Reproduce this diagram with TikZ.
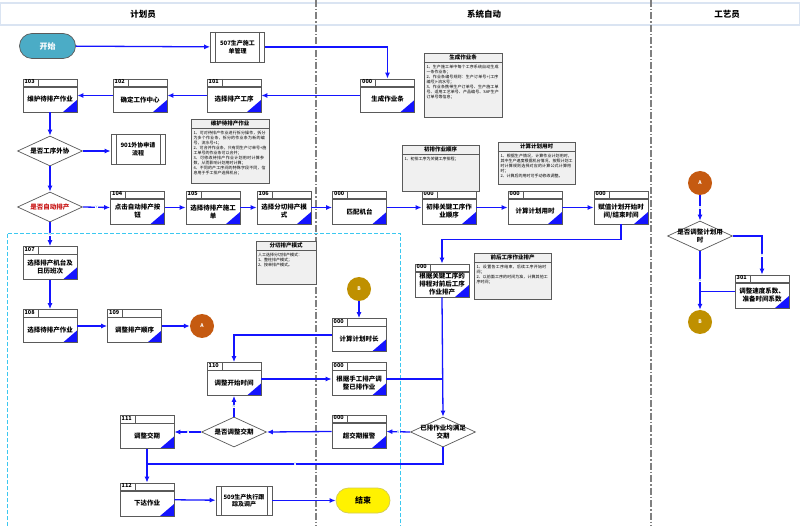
\documentclass[tikz,border=0pt]{standalone}
\usepackage{fontspec}
\setmainfont{Noto Sans CJK SC}
\XeTeXlinebreaklocale "zh"
\XeTeXlinebreakskip=0pt plus 1pt
\usetikzlibrary{
  shapes.geometric, shapes.misc,
  arrows.meta,
  positioning, calc
}
\definecolor{flowblue}{RGB}{20,20,255}
\definecolor{edgegray}{RGB}{90,90,90}
\definecolor{startteal}{RGB}{75,172,198}
\definecolor{circA}{RGB}{197,90,17}
\definecolor{circB}{RGB}{191,144,0}
\definecolor{notefill}{RGB}{240,240,240}
\definecolor{lanecyan}{RGB}{60,200,240}
\definecolor{hdrline}{RGB}{218,228,242}
\definecolor{condred}{RGB}{200,20,20}
\definecolor{ynblue}{RGB}{90,150,230}

% process box: name, position, number, text
\newcommand{\procbox}[4]{%
  \node[proc] (#1) at (#2) {};
  \node[procnum] (#1n) at (#1.north west) {#3};
  \node[proctxt] (#1t) at ([yshift=-4pt]#1.center) {#4};
}
% decision: name, position, text
\newcommand{\decbox}[3]{%
  \node[dec] (#1) at (#2) {};
  \node[dectxt] (#1t) at (#1.center) {#3};
}
% note: name, position, width, height, text width, title, body
\newcommand{\notebox}[7]{%
  \node[note, minimum width=#3, minimum height=#4] (#1) at (#2) {};
  \node[notehead] (#1h) at (#1.north) {#6};
  \draw[line width=1pt, edgegray] ([yshift=-10pt]#1.north west) -- ([yshift=-10pt]#1.north east);
  \node[notebody, text width=#5] (#1b) at ([yshift=-12pt]#1.north) {#7};
}

\begin{document}
\begin{tikzpicture}[
  x=1pt, y=-1pt,
  >={Latex[length=6pt,width=5pt]},
  flow/.style={flowblue, line width=1.3pt, ->},
  flowline/.style={flowblue, line width=1.3pt},
  lane/.style={gray, line width=1.2pt, dash pattern=on 7pt off 2pt on 1.5pt off 2pt},
  hdrtext/.style={font=\fontsize{8.5}{9}\selectfont\bfseries},
  proc/.style={draw=edgegray, fill=white, line width=0.7pt,
               minimum width=54pt, minimum height=33pt, inner sep=0pt,
               path picture={
                 \draw[line width=1.1pt, edgegray]
                   ([yshift=-8pt]path picture bounding box.north west) --
                   ([yshift=-8pt]path picture bounding box.north east);
                 \draw[line width=0.6pt, edgegray]
                   ([xshift=15pt]path picture bounding box.north west) -- ++(0pt,-8pt);
                 \fill[flowblue] (path picture bounding box.south east) --
                   ++(-14pt,0pt) -- ++(14pt,12pt) -- cycle;
               }},
  procnum/.style={anchor=north west, inner sep=0.8pt, xshift=1pt,
                  font=\fontsize{5.5}{6}\selectfont\bfseries},
  proctxt/.style={align=center, inner sep=0pt,
                  font=\fontsize{6.5}{8}\selectfont\bfseries},
  pdef/.style={draw=edgegray, fill=white, line width=0.7pt,
               minimum width=54pt, minimum height=30pt,
               align=center, inner sep=0pt,
               font=\fontsize{6}{7.5}\selectfont\bfseries,
               path picture={
                 \draw[edgegray, line width=0.6pt]
                   ([xshift=5pt]path picture bounding box.north west) --
                   ([xshift=5pt]path picture bounding box.south west);
                 \draw[edgegray, line width=0.6pt]
                   ([xshift=-5pt]path picture bounding box.north east) --
                   ([xshift=-5pt]path picture bounding box.south east);
               }},
  term/.style={rounded rectangle, draw=edgegray, line width=0.7pt,
               minimum width=56pt, minimum height=25pt, inner sep=0pt,
               font=\fontsize{8}{9}\selectfont\bfseries},
  dec/.style={diamond, draw=edgegray, fill=white, line width=0.7pt,
              inner sep=0pt, minimum width=65pt, minimum height=30pt},
  dectxt/.style={align=center, inner sep=0pt,
                 font=\fontsize{6.5}{8}\selectfont\bfseries},
  conn/.style={circle, minimum size=24pt, inner sep=0pt, text=white,
               font=\fontsize{5}{6}\selectfont\bfseries},
  note/.style={draw=edgegray, fill=notefill, line width=0.8pt, inner sep=0pt},
  notehead/.style={anchor=north, minimum height=10pt, inner sep=0pt,
                   font=\fontsize{5.5}{6}\selectfont\bfseries},
  notebody/.style={anchor=north, align=left, inner sep=0pt,
                   font=\fontsize{4}{5}\selectfont},
  yn/.style={font=\fontsize{3.5}{4}\selectfont, text=ynblue, fill=white, inner sep=0.2pt}
]
  \useasboundingbox (0,0) rectangle (800,526);
  \fill[white] (0,0) rectangle (800,526);

  % lanes
  \draw[hdrline, line width=1.5pt, fill=white] (0,3) rectangle (800,25);
  \node[hdrtext] (h1) at (143,14) {计划员};
  \node[hdrtext] (h2) at (484,14) {系统自动};
  \node[hdrtext] (h3) at (727,14) {工艺员};
  \draw[lane] (316,0) -- (316,526);
  \draw[lane] (651,0) -- (651,526);
  \draw[lanecyan, line width=0.8pt, dash pattern=on 4pt off 2pt]
    (7,526) -- (7,233) -- (400,233) -- (400,526);

  % top row
  \node[term, fill=startteal, text=white] (start) at (47.5,46) {开始};
  \node[pdef] (p507) at (237.5,47) {507生产施工\\单管理};
  \procbox{g000}{387.5,95.5}{000}{生成作业条}
  \procbox{b101}{234,95.5}{101}{选择排产工序}
  \procbox{b102}{140,95.5}{102}{确定工作中心}
  \procbox{b103}{50,95.5}{103}{维护待排产作业}
  \notebox{n1}{463,85}{78pt}{64pt}{73pt}{生成作业条}
    {1、生产施工单中每个工序系统自动生成一条作业条；\\
     2、作业条编号规则：生产订单号+(工序编号)+流水号；\\
     3、作业条携带生产订单号、生产施工单号、适用工艺单号、产品编号、SAP生产订单号等信息；}

  % decisions on the left
  \decbox{d1}{50,151}{是否工序外协}
  \node[pdef] (p901) at (138,149) {901外协申请\\流程};
  \decbox{d2}{50,207}{\textcolor{condred}{是否自动排产}}
  \notebox{n2}{230,151}{78pt}{64pt}{73pt}{维护待排产作业}
    {1、可对待排产作业进行拆分操作，拆分为多个作业条，拆分的作业条为新的编号，流水号+1；\\
     2、可合并作业条，只有同生产订单号+施工单号的作业条可以合并；\\
     3、可修改待排产作业计划用时计算参数，从而影响计划用时计算；\\
     4、不同的产工序间的特殊字段不同，信息用于手工排产选择机台；}

  % automatic row
  \procbox{b104}{137.5,207.5}{104}{点击自动排产按\\钮}
  \procbox{b105}{213,207.5}{105}{选择待排产施工\\单}
  \procbox{b106}{284,207.5}{106}{选择分切排产模\\式}
  \procbox{m000}{359.5,207.5}{000}{匹配机台}
  \procbox{k000}{449,207.5}{000}{初排关键工序作\\业顺序}
  \procbox{c000}{535,207.5}{000}{计算计划用时}
  \procbox{v000}{621,207.5}{000}{赋值计划开始时\\间/结束时间}
  \notebox{n3}{440.5,168}{77pt}{46pt}{72pt}{初排作业顺序}
    {1、初排工序为关键工序排程；}
  \notebox{n4}{536.5,163}{77pt}{42pt}{72pt}{计算计划用时}
    {1、根据生产情况，计算作业计划用时，其中生产速度根据机台情况，按照计划工时计算规则选择对应的计算公式计算用时；\\
     2、计算后的用时可手动修改调整。}

  % manual part
  \procbox{b107}{50,263}{107}{选择排产机台及\\日历班次}
  \procbox{b108}{50,326}{108}{选择待排产作业}
  \procbox{b109}{134.5,326}{109}{调整排产顺序}
  \node[conn, fill=circA] (cA) at (202,326) {A};
  \notebox{n5}{286,262.5}{60pt}{43pt}{56pt}{分切排产模式}
    {人工选择分切排产模式：\\1、整柱排产模式；\\2、按单排产模式。}
  \node[conn, fill=circB] (cB) at (359,289) {B};
  \procbox{t000}{359,335}{000}{计算计划时长}
  \procbox{q000}{442,280.5}{000}{根据关键工序的\\排程对前后工序\\作业排产}
  \notebox{n6}{512.5,276}{77pt}{46pt}{72pt}{前后工序作业排产}
    {1、设置各工序结束，后续工序开始时间；\\
     2、以前面工序的时间为准，计算其他工序时间；}
  \procbox{b110}{234,379}{110}{调整开始时间}
  \procbox{h000}{359,379}{000}{根据手工排产调\\整已排作业}
  \decbox{d3}{443,432}{已排作业均满足\\交期}
  \procbox{o000}{359,431.5}{000}{超交期报警}
  \decbox{d4}{234,432}{是否调整交期}
  \procbox{b111}{147,432}{111}{调整交期}
  \procbox{b112}{147,499.5}{112}{下达作业}
  \node[pdef, minimum width=56pt, minimum height=29pt] (p509) at (244,500.5) {509生产执行跟\\踪及调产};
  \node[term, fill=yellow, draw=yellow!60!gray, minimum width=54pt] (end) at (363,500.5) {结束};

  % process engineer lane
  \node[conn, fill=circA] (cA2) at (700,183) {A};
  \decbox{d5}{700,236}{是否调整计划用\\时}
  \procbox{b301}{762,291.5}{301}{调整速度系数、\\准备时间系数}
  \node[conn, fill=circB] (cB2) at (700,322) {B};

  \coordinate (vj) at ([yshift=-15pt]v000.south);
  \coordinate (ret) at (147,464);

  % connectors
  \draw[flow] (start) -- (p507);
  \draw[flow] (p507.east) -| (g000.north);
  \draw[flow] (g000) -- (b101);
  \draw[flow] (b101) -- (b102);
  \draw[flow] (b102) -- (b103);
  \draw[flow] (b103) -- (d1);
  \draw[flow] (d1.east) -- (d1.east -| p901.west);
  \draw[flow] (d1) -- (d2);
  \draw[flow] (d2.east) -- node[yn] {Y} (b104.west);
  \draw[flow] (b104) -- (b105);
  \draw[flow] (b105) -- (b106);
  \draw[flow] (b106) -- (m000);
  \draw[flow] (m000) -- (k000);
  \draw[flow] (k000) -- (c000);
  \draw[flow] (c000) -- (v000);
  \draw[flow] (v000.south) -- (vj) -| (q000.north);
  \draw[flow] (d2.south) -- node[yn] {N} (b107.north);
  \draw[flow] (b107) -- (b108);
  \draw[flow] (b108) -- (b109);
  \draw[flow] (b109) -- (cA);
  \draw[flow] (cB) -- (t000);
  \draw[flow] (t000.west) -| (b110.north);
  \draw[flow] (b110) -- (h000);
  \draw[flowline] (h000.east) -- (h000.east -| d3.north);
  \draw[flow] (q000.south) -- (d3.north);
  \draw[flow] (d3.west) -- node[yn] {N} (o000.east);
  \draw[flow] (o000.west) -- (d4.east);
  \draw[flow] (d4.north) -- node[yn] {N} (b110.south);
  \draw[flow] (d4.west) -- node[yn] {Y} (b111.east);
  \draw[flow] (b111) -- (b112);
  \draw[flowline] (d3.south) |- node[yn, pos=0.75] {Y} (ret);
  \draw[flow] (b112) -- (p509);
  \draw[flow] (p509) -- (end);
  \draw[flow] (cA2) -- node[yn] {Y} (d5.north);
  \draw[flow] (d5.east) -| node[yn, pos=0.75] {Y} (b301.north);
  \draw[flow] (d5.south) -- node[yn] {N} (cB2.north);
  \draw[flowline] (b301.west) -- (b301.west -| d5.south);
\end{tikzpicture}
\end{document}
